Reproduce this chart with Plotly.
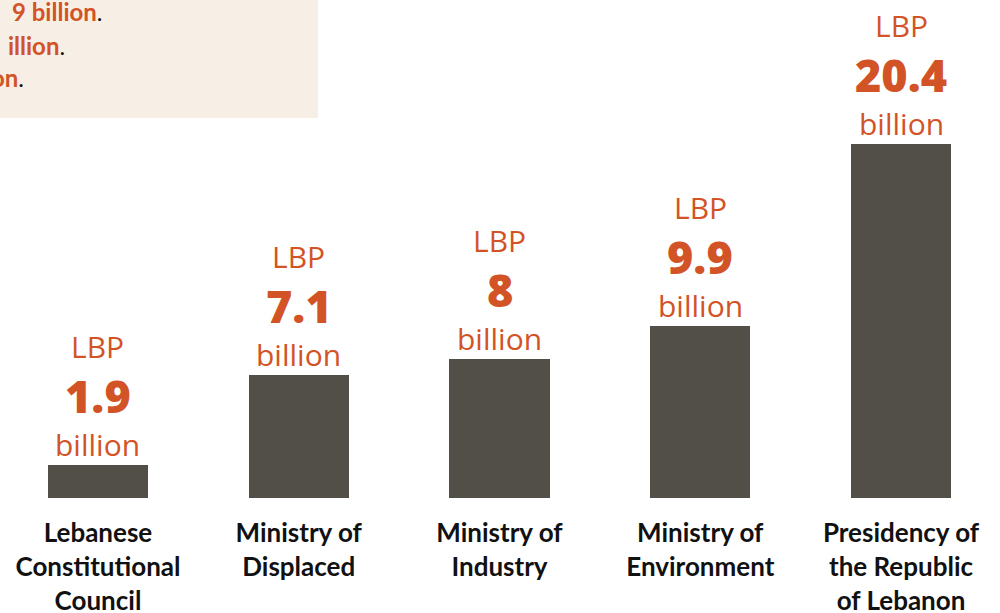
import plotly.graph_objects as go

categories = ["Lebanese<br>Constitutional<br>Council", "Ministry of<br>Displaced",
              "Ministry of<br>Industry", "Ministry of<br>Environment",
              "Presidency of<br>the Republic<br>of Lebanon"]
values = [1.9, 7.1, 8, 9.9, 20.4]
value_labels = ["1.9", "7.1", "8", "9.9", "20.4"]
box_lines = ["9 billion", "illion", "on"]

ORANGE = "#D25426"
BAR = "#524F48"
W, H = 1000, 613
TOP, BOTTOM = 0, 115

xs = list(range(len(values)))
fig = go.Figure(go.Bar(x=xs, y=values, width=0.5, marker=dict(color=BAR, line=dict(width=0)),
                       hoverinfo="skip"))

ann = []
for i, (v, lab) in enumerate(zip(values, value_labels)):
    ann.append(dict(x=i, y=v, xref="x", yref="y", text="billion", showarrow=False,
                    yanchor="bottom", yshift=-2,
                    font=dict(family="Open Sans", size=30, color=ORANGE)))
    ann.append(dict(x=i, y=v, xref="x", yref="y", text=lab, showarrow=False,
                    yanchor="bottom", yshift=37,
                    font=dict(family="Open Sans", size=45, color=ORANGE, weight=800)))
    ann.append(dict(x=i, y=v, xref="x", yref="y", text="LBP", showarrow=False,
                    yanchor="bottom", yshift=96,
                    font=dict(family="Open Sans", size=30, color=ORANGE)))

plot_h = H - TOP - BOTTOM
box_right = [105, 67, 26]
box_base = [21, 54, 87]
for t, xr, yb in zip(box_lines, box_right, box_base):
    ann.append(dict(x=xr / W, y=1 - (yb - 9) / plot_h, xref="paper", yref="paper",
                    xanchor="right", yanchor="middle", showarrow=False,
                    text=f"<b>{t}</b><span style='color:#111111'>.</span>",
                    font=dict(family="Lato", size=24, color=ORANGE)))

fig.update_layout(
    width=W, height=H,
    margin=dict(l=0, r=0, t=TOP, b=BOTTOM, pad=0, autoexpand=False),
    paper_bgcolor="white", plot_bgcolor="white",
    showlegend=False,
    bargap=0,
    xaxis=dict(range=[-0.488, 4.493], tickmode="array", tickvals=xs, ticktext=categories,
               showgrid=False, zeroline=False, showline=False, ticks="",
               automargin=False, ticklabelstandoff=17,
               tickfont=dict(family="Lato", size=26, color="#111111", weight="bold"),
               fixedrange=True),
    yaxis=dict(range=[0, 28.7], visible=False, showgrid=False, zeroline=False,
               automargin=False, fixedrange=True),
    shapes=[dict(type="rect", xref="paper", yref="paper", x0=0, x1=318 / W,
                 y0=1 - 118 / plot_h, y1=1, fillcolor="#F7EFE6", line=dict(width=0), layer="below")],
    annotations=ann,
)

fig.write_html("out.html", config={"displayModeBar": False},
               post_script="document.body.style.margin='0';document.body.style.overflow='hidden';")
